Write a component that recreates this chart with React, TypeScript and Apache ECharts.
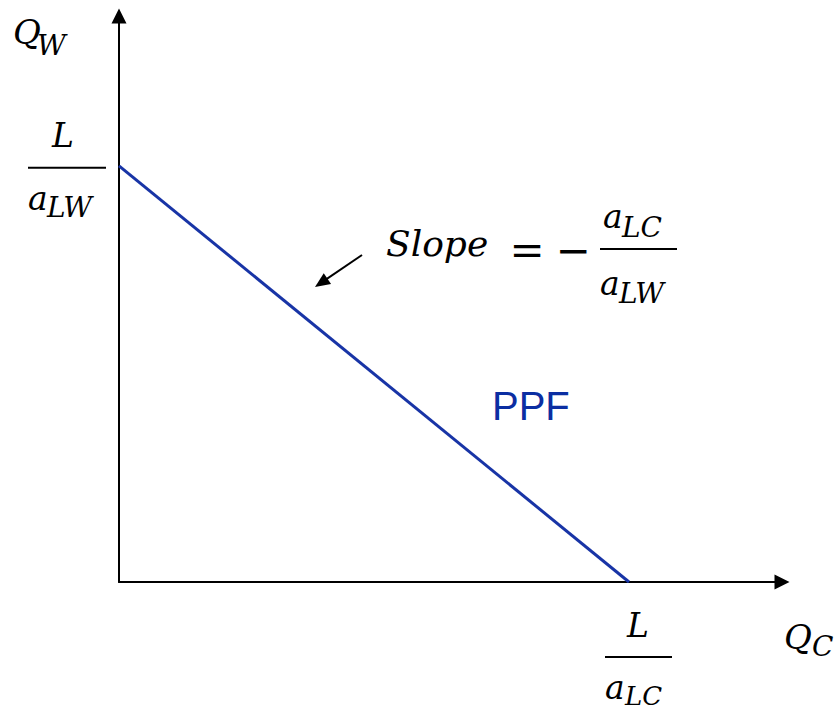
import React, { useEffect, useRef } from "react";
import * as echarts from "echarts";

// PPF end points (Q_C, Q_W)
const qcValues = [0, 10];
const qwValues = [10, 0];
const xAxisMax = 13;
const yAxisMax = 13.6;

const MATH = "'DejaVu Serif', 'Liberation Serif', serif";
const SANS = "'Liberation Sans', Arial, sans-serif";
const LINE_BLUE = "#1834a6";
const TEXT_BLUE = "#0b2ea2";
const MAIN = 33;
const SUB = 28;

function mt(
  text: string,
  x: number,
  baseline: number,
  size: number,
  align: string = "left",
  opts: { italic?: boolean; color?: string; family?: string } = {}
) {
  const italic = opts.italic !== false;
  return {
    type: "text",
    x,
    y: baseline - 0.346 * size,
    silent: true,
    z: 100,
    style: {
      text,
      fontSize: size,
      fontFamily: opts.family || MATH,
      fontStyle: italic ? "italic" : "normal",
      fill: opts.color || "#000",
      align,
      verticalAlign: "middle",
    },
  };
}

function bar(x1: number, x2: number, y: number) {
  return {
    type: "rect",
    silent: true,
    z: 100,
    shape: { x: x1, y: y - 1, width: x2 - x1, height: 2 },
    style: { fill: "#000" },
  };
}

export default function App() {
  const ref = useRef<HTMLDivElement>(null);
  useEffect(() => {
    const chart = echarts.init(ref.current!, null, { renderer: "svg" });
    const axisCommon = {
      type: "value",
      min: 0,
      axisLabel: { show: false },
      axisTick: { show: false },
      splitLine: { show: false },
      axisLine: {
        show: true,
        onZero: false,
        symbol: ["none", "triangle"],
        symbolSize: [15, 15],
        lineStyle: { color: "#000", width: 2 },
      },
    };
    chart.setOption({
      animation: false,
      backgroundColor: "#fff",
      grid: { left: 119, top: 16, right: 56, bottom: 130, containLabel: false },
      xAxis: { ...axisCommon, max: xAxisMax },
      yAxis: { ...axisCommon, max: yAxisMax },
      series: [
        {
          type: "line",
          name: "PPF",
          data: qcValues.map((x, i) => [x, qwValues[i]]),
          symbol: "none",
          lineStyle: { color: LINE_BLUE, width: 3 },
          z: 5,
        },
      ],
    });

    const yInt = chart.convertToPixel({ gridIndex: 0 }, [qcValues[0], qwValues[0]]) as number[];
    const xInt = chart.convertToPixel({ gridIndex: 0 }, [qcValues[1], qwValues[1]]) as number[];
    const corner = chart.convertToPixel({ gridIndex: 0 }, [xAxisMax, yAxisMax]) as number[];
    const origin = chart.convertToPixel({ gridIndex: 0 }, [0, 0]) as number[];
    const [yx, yy] = yInt;
    const [xx, xy] = xInt;
    const [ox, oy] = origin;
    const [ex, ey] = corner;

    // slope arrow geometry
    const tip = [315, 287];
    const start = [362, 255];
    const dx = tip[0] - start[0];
    const dy = tip[1] - start[1];
    const len = Math.hypot(dx, dy);
    const ux = dx / len;
    const uy = dy / len;
    const headLen = 15;
    const headHalf = 6.5;
    const bx = tip[0] - ux * headLen;
    const by = tip[1] - uy * headLen;

    const graphic: any[] = [
      // Q_W axis name
      mt("Q", ox - 106, ey + 28, MAIN + 1),
      mt("W", ox - 82, ey + 39, SUB),
      // L / a_LW at y-intercept
      mt("L", yx - 56, yy - 19, MAIN, "center"),
      bar(yx - 91, yx - 13, yy + 2),
      mt("a", yx - 91, yy + 44, MAIN),
      mt("LW", yx - 72, yy + 51, SUB),
      // L / a_LC at x-intercept
      mt("L", xx + 9, xy + 55, MAIN, "center"),
      bar(xx - 24, xx + 43, xy + 75),
      mt("a", xx - 24, xy + 117, MAIN),
      mt("LC", xx - 4, xy + 123, SUB - 2),
      // Q_C axis name
      mt("Q", ex + 2, oy + 67, MAIN + 1),
      mt("C", ex + 30, oy + 74, SUB),
      // Slope = - a_LC / a_LW
      mt("Slope", 386, 256, 36),
      mt("=", 527, 250 + 0.346 * 42, 42, "center", { italic: false }),
      mt("\u2212", 573, 250 + 0.346 * 42, 42, "center", { italic: false }),
      mt("a", 603, 228, MAIN),
      mt("LC", 622, 237, SUB),
      bar(600, 677, 249),
      mt("a", 600, 295, MAIN),
      mt("LW", 619, 303, SUB),
      // arrow
      {
        type: "line",
        silent: true,
        z: 100,
        shape: { x1: start[0], y1: start[1], x2: bx + ux * 2, y2: by + uy * 2 },
        style: { stroke: "#000", lineWidth: 2 },
      },
      {
        type: "polygon",
        silent: true,
        z: 100,
        shape: {
          points: [
            [tip[0], tip[1]],
            [bx - uy * headHalf, by + ux * headHalf],
            [bx + uy * headHalf, by - ux * headHalf],
          ],
        },
        style: { fill: "#000" },
      },
      // PPF label
      mt("PPF", 492, 420, 40, "left", { italic: false, color: TEXT_BLUE, family: SANS }),
    ];
    chart.setOption({ graphic });
    return () => chart.dispose();
  }, []);
  return (
    <div
      ref={ref}
      style={{ position: "fixed", left: 0, top: 0, width: 838, height: 712, background: "#fff" }}
    />
  );
}
